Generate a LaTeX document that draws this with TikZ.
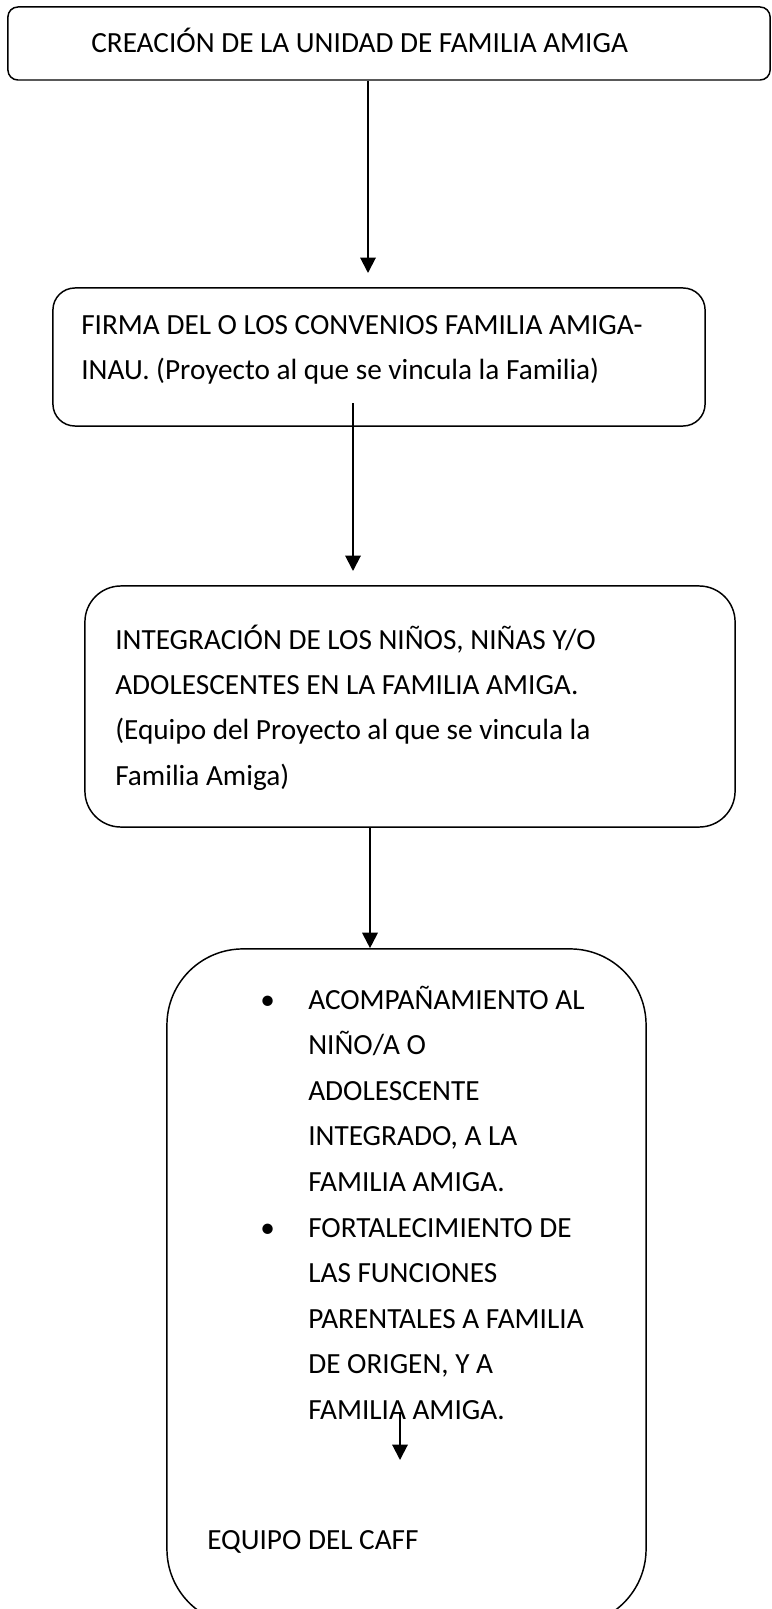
\documentclass[tikz,border=0pt]{standalone}
\usepackage{fontspec}
\setmainfont{Carlito}
\usepackage{tikz}
\usetikzlibrary{arrows.meta}
\tikzset{
    stage/.style={rectangle, draw=black, line width=1.05pt, inner sep=0pt},
    stagetext/.style={align=left, inner sep=0pt, anchor=base west, font=\fontsize{20.8}{32.2}\selectfont},
    listtext/.style={stagetext, font=\fontsize{20.8}{32.43}\selectfont},
    arrow/.style={-{Triangle[width=11pt,length=11pt]}, line width=1.4pt}
}

\begin{document}
\begin{tikzpicture}[x=0.025cm, y=-0.025cm]
    \useasboundingbox (0,0) rectangle (771,1609);

    % Boxes
    \node[stage, minimum width=19.05cm, minimum height=1.825cm, rounded corners=0.25cm] (creacion) at (389,43.5) {};
    \node[stage, minimum width=16.3cm, minimum height=3.45cm, rounded corners=0.55cm] (firma) at (379,357) {};
    \node[stage, minimum width=16.25cm, minimum height=6.025cm, rounded corners=0.9cm] (integracion) at (410,706.5) {};
    \node[stage, minimum width=11.975cm, minimum height=16.9cm, rounded corners=1.9cm] (acompa) at (406.5,1287) {};

    % Texts (anchored at the baseline of the last line)
    \node[stagetext] (creacionTxt) at (91,53) {CREACIÓN DE LA UNIDAD DE FAMILIA AMIGA};
    \node[stagetext] (firmaTxt) at (81,379.3) {FIRMA DEL O LOS CONVENIOS FAMILIA AMIGA-\\INAU. (Proyecto al que se vincula la Familia)};
    \node[stagetext] (integracionTxt) at (115,785) {INTEGRACIÓN DE LOS NIÑOS, NIÑAS Y/O\\ADOLESCENTES EN LA FAMILIA AMIGA.\\(Equipo del Proyecto al que se vincula la\\Familia Amiga)};
    \node[listtext] (bulletA) at (260,1009) {•};
    \node[listtext] (acompTxt) at (308,1191.4) {ACOMPAÑAMIENTO AL\\NIÑO/A O\\ADOLESCENTE\\INTEGRADO, A LA\\FAMILIA AMIGA.};
    \node[listtext] (bulletB) at (260,1237) {•};
    \node[listtext] (fortalTxt) at (308,1419.4) {FORTALECIMIENTO DE\\LAS FUNCIONES\\PARENTALES A FAMILIA\\DE ORIGEN, Y A\\FAMILIA AMIGA.};
    \node[stagetext] (caffTxt) at (207,1549) {EQUIPO DEL CAFF};

    % Arrows
    \coordinate (tipA) at (368,273);
    \coordinate (tailB) at (353,403);
    \coordinate (tipB) at (353,571);
    \coordinate (colC) at (370,0);
    \coordinate (tailD) at (400,1413);
    \coordinate (tipD) at (400,1460);
    \draw[arrow] (tipA |- creacion.south) -- (tipA);
    \draw[arrow] (tailB) -- (tipB);
    \draw[arrow] (colC |- integracion.south) -- (colC |- acompa.north);
    \draw[arrow] (tailD) -- (tipD);
\end{tikzpicture}
\end{document}
